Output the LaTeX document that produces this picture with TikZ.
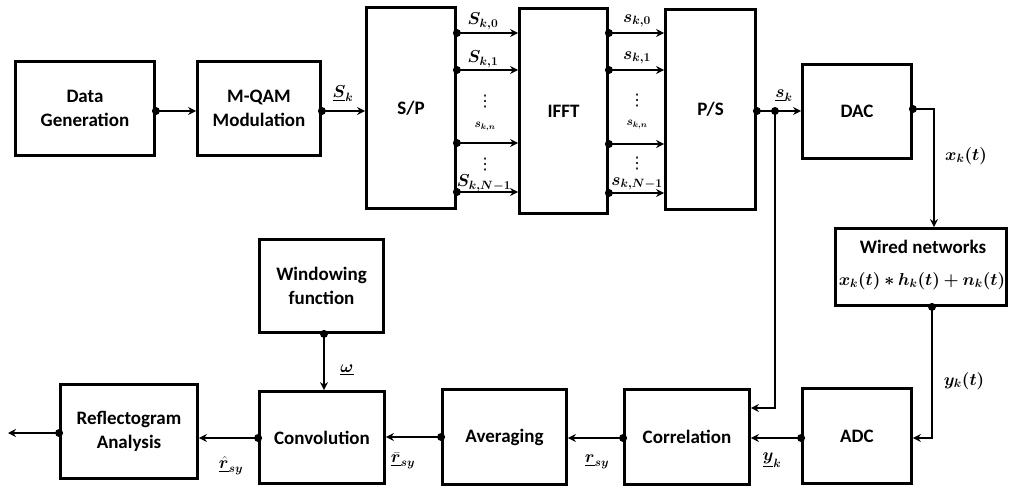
\documentclass[tikz,border=0pt]{standalone}
\usepackage{amsmath}
\usepackage{bm}
\usepackage{fontspec}
\setmainfont{Carlito}
\newfontfamily\djv{DejaVu Sans}
\usetikzlibrary{arrows.meta,calc}
\tikzset{
  blk/.style={draw, line width=2.8pt, align=center, inner sep=0pt,
    font=\fontsize{19}{24}\selectfont\bfseries},
  conn/.style={line width=2.6pt, -{Stealth[length=8pt,width=8pt]}},
  lab/.style={inner sep=0pt, font=\fontsize{17.5}{20}\selectfont},
  slab/.style={inner sep=0pt, font=\fontsize{12}{13}\selectfont},
  vd/.style={inner sep=0pt, font=\djv\fontsize{16}{17}\selectfont},
}
\begin{document}
\begin{tikzpicture}[x=1pt,y=-1pt]
\useasboundingbox (0,0) rectangle (1010,490);
% blocks
\node[blk, minimum width=139pt, minimum height=94pt] (dg) at (85,108.5) {Data\\Generation};
\node[blk, minimum width=123pt, minimum height=94pt] (mqam) at (259,108.5) {M-QAM\\Modulation};
\node[blk, minimum width=89pt, minimum height=201pt] (sp) at (411,108) {S/P};
\node[blk, minimum width=88pt, minimum height=205pt] (ifft) at (563.5,111) {IFFT};
\node[blk, minimum width=90pt, minimum height=200pt] (ps) at (710.5,109.5) {P/S};
\node[blk, minimum width=109pt, minimum height=94pt] (dac) at (857,111.5) {DAC};
\node[blk, minimum width=171pt, minimum height=77pt] (wired) at (921,267) {};
\node[inner sep=0pt, font=\fontsize{19}{24}\selectfont\bfseries] (wiredt) at (923,247) {Wired networks};
\node[lab] (wiredf) at (922,281) {$\bm{x_k(t) * h_k(t) + n_k(t)}$};
\node[blk, minimum width=109pt, minimum height=95pt] (adc) at (857,436) {ADC};
\node[blk, minimum width=125pt, minimum height=95pt] (corr) at (687,437) {Correlation};
\node[blk, minimum width=124pt, minimum height=95pt] (avg) at (504.5,437) {Averaging};
\node[blk, minimum width=125pt, minimum height=92pt] (conv) at (322,437.5) {Convolution};
\node[blk, minimum width=124pt, minimum height=93pt] (win) at (321.5,286) {Windowing\\function};
\node[blk, minimum width=137pt, minimum height=94pt] (refl) at (129,431.5) {Reflectogram\\Analysis};
\coordinate (out) at (8,433);
\coordinate (jn) at (775,111);
\coordinate (dacc) at (934,109);
\coordinate (wirc) at (932,438);
\coordinate (fbc) at (775,408);

% top chain
\draw[conn] (dg.east |- 0,111) -- (mqam.west |- 0,111);
\fill (dg.east |- 0,111) circle (4pt);
\draw[conn] (mqam.east |- 0,111) -- (sp.west |- 0,111);
\fill (mqam.east |- 0,111) circle (4pt);
\foreach \yy in {33,70,143,192}{
  \draw[conn] (sp.east |- 0,\yy) -- (ifft.west |- 0,\yy);
  \fill (sp.east |- 0,\yy) circle (4pt);
}
\foreach \yy in {33,70,144,193}{
  \draw[conn] (ifft.east |- 0,\yy) -- (ps.west |- 0,\yy);
  \fill (ifft.east |- 0,\yy) circle (4pt);
}
\draw[conn] (ps.east |- 0,111) -- (dac.west |- 0,111);
\fill (ps.east |- 0,111) circle (4pt);
\fill (jn) circle (4pt);
\draw[conn] (jn) -- (fbc) -- (corr.east |- fbc);
\draw[conn] (dac.east |- dacc) -- (dacc) -- (dacc |- wired.north);
\fill (dac.east |- dacc) circle (4pt);
\draw[conn] (wired.south -| wirc) -- (wirc) -- (adc.east |- wirc);
\fill (wired.south -| wirc) circle (4pt);
% bottom chain
\draw[conn] (adc.west |- 0,438) -- (corr.east |- 0,438);
\fill (adc.west |- 0,438) circle (4pt);
\draw[conn] (corr.west |- 0,438) -- (avg.east |- 0,438);
\fill (corr.west |- 0,438) circle (4pt);
\draw[conn] (avg.west |- 0,437) -- (conv.east |- 0,437);
\fill (avg.west |- 0,437) circle (4pt);
\draw[conn] (conv.west |- 0,438) -- (refl.east |- 0,438);
\fill (conv.west |- 0,438) circle (4pt);
\draw[conn] (refl.west |- out) -- (out);
\fill (refl.west |- out) circle (4pt);
\draw[conn] (win.south -| 324,0) -- (conv.north -| 324,0);
\fill (win.south -| 324,0) circle (4pt);

% labels
\node[lab] (l1) at (343,94) {$\underline{\bm{S}}_{\bm{k}}$};
\node[lab] (l2) at (483,21) {$\bm{S_{k,0}}$};
\node[lab] (l3) at (483,59) {$\bm{S_{k,1}}$};
\node[vd] (l4) at (485,102) {⋮};
\node[slab] (l5) at (485,127) {$\bm{s_{k,n}}$};
\node[vd] (l6) at (485,165) {⋮};
\node[lab] (l7) at (484,183) {$\bm{S_{k,N-1}}$};
\node[lab] (m2) at (637,21) {$\bm{s_{k,0}}$};
\node[lab] (m3) at (637,58) {$\bm{s_{k,1}}$};
\node[vd] (m4) at (637,101) {⋮};
\node[slab] (m5) at (637,125) {$\bm{s_{k,n}}$};
\node[vd] (m6) at (637,164) {⋮};
\node[lab] (m7) at (637,184) {$\bm{s_{k,N-1}}$};
\node[lab] (l8) at (784,96) {$\underline{\bm{s}}_{\bm{k}}$};
\node[lab] (l9) at (966,156) {$\bm{x_k(t)}$};
\node[lab] (l10) at (964,381) {$\bm{y_k(t)}$};
\node[lab] (l11) at (772,460) {$\underline{\bm{y}}_{\bm{k}}$};
\node[lab] (l12) at (597,462) {$\underline{\bm{r}}_{\bm{sy}}$};
\node[lab] (l13) at (403,461) {$\underline{\bar{\bm{r}}}_{\bm{sy}}$};
\node[lab] (l14) at (231,466) {$\underline{\hat{\bm{r}}}_{\bm{sy}}$};
\node[lab] (l15) at (347,370) {$\underline{\bm{\omega}}$};
\end{tikzpicture}
\end{document}
